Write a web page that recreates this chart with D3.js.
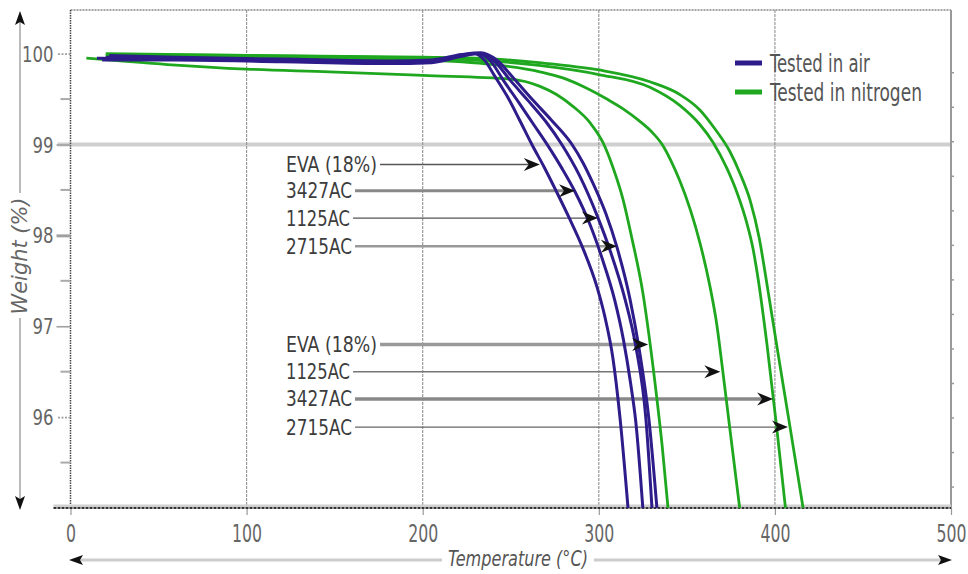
<!DOCTYPE html>
<html><head><meta charset="utf-8">
<script src="https://cdn.jsdelivr.net/npm/d3@7"></script>
<style>
html,body{margin:0;padding:0;background:#fff;}
svg{display:block;}
text{font-family:"Liberation Sans Narrow","Arial Narrow","DejaVu Sans Condensed","Liberation Sans",sans-serif;}
</style></head><body>
<svg id="chart" width="968" height="574"></svg>
<script>
// ---------------- DATA ----------------
const xTicks = [0, 100, 200, 300, 400, 500];
const yTicks = [96, 97, 98, 99, 100];
const yMinorTicks = [95.5, 96.5, 97.5, 98.5, 99.5];
const seriesNames = ["Tested in air", "Tested in nitrogen"];

// Tested in air  [temperature °C, weight %]
const airEVA = [[15,99.95],[60,99.94],[120,99.92],[180,99.9],[205,99.91],[220,99.97],[229,100.0],[235,99.93],[241,99.75],[248,99.53],[255,99.27],[262,99.0],[269,98.75],[276,98.48],[283,98.2],[290.7,97.87],[299,97.43],[303.5,97.1],[308,96.65],[312,96.0],[316.6,95.0]];
const air3427 = [[18,99.93],[60,99.93],[120,99.91],[180,99.89],[205,99.9],[222,99.97],[231,100.0],[238,99.93],[246,99.7],[255,99.45],[263,99.22],[271,98.99],[279,98.74],[286.5,98.48],[295,98.12],[302,97.74],[309,97.29],[314,96.85],[318,96.38],[321,95.95],[325,95.0]];
const air1125 = [[20,99.96],[60,99.95],[120,99.93],[180,99.91],[205,99.92],[222,99.98],[232,100.0],[240,99.93],[250,99.7],[260,99.48],[270,99.25],[279,99.0],[289,98.66],[299,98.22],[307,97.8],[315,97.29],[321,96.78],[326.8,95.97],[330.2,95.0]];
const air2715 = [[22,99.98],[60,99.96],[120,99.94],[180,99.92],[205,99.93],[222,99.99],[233,100.01],[242,99.93],[252,99.72],[262,99.5],[273,99.27],[284.8,99.0],[291,98.8],[297,98.56],[304,98.24],[310.3,97.87],[317.7,97.3],[323,96.74],[328.5,95.97],[333,95.0]];

// Tested in nitrogen
const n2EVA = [[9,99.95],[55,99.88],[100,99.83],[147,99.8],[200,99.76],[250,99.72],[266.6,99.64],[276,99.55],[285.3,99.42],[295,99.24],[302.4,99.02],[308,98.75],[313.7,98.4],[319,97.95],[325,97.37],[328.5,96.9],[333,96.2],[336,95.68],[339.3,95.0]];
const n21125 = [[20,99.98],[100,99.96],[200,99.93],[240,99.88],[266.6,99.8],[280,99.73],[292,99.63],[304.6,99.5],[314,99.39],[323,99.26],[330,99.14],[336,99.0],[341,98.82],[346,98.6],[352,98.28],[357.4,97.92],[363,97.45],[367,97.02],[370,96.57],[374.5,95.86],[380,95.0]];
const n23427 = [[20,100.0],[100,99.98],[200,99.95],[230,99.93],[266,99.87],[300,99.77],[329,99.63],[346,99.43],[357.4,99.22],[365,99.02],[372.7,98.74],[378.5,98.47],[384,98.14],[387.5,97.86],[390,97.58],[395.5,96.8],[401,95.89],[406,95.0]];
const n22715 = [[24,99.99],[100,99.98],[200,99.96],[230,99.95],[266,99.9],[300,99.82],[329,99.69],[346,99.55],[357.4,99.38],[366,99.17],[374.5,98.92],[380,98.69],[386,98.38],[391,97.98],[396,97.4],[401.2,96.77],[408.6,95.89],[416,95.0]];

// annotation arrows
const airLabels = ["EVA (18%)", "3427AC", "1125AC", "2715AC"];
const airLevels = [98.78, 98.49, 98.19, 97.88];
const airTips   = [266.5, 286.5, 299.5, 310.3];
const n2Labels  = ["EVA (18%)", "1125AC", "3427AC", "2715AC"];
const n2Levels  = [96.8, 96.5, 96.2, 95.89];
const n2Tips    = [328, 369, 399, 407.4];

// ---------------- STYLE / LAYOUT ----------------
const blue = "#2d1c8a", green = "#1fa81f";
const labelStartT = 122.4;
const labelWidths = {"EVA (18%)": 91, "3427AC": 66, "1125AC": 64, "2715AC": 66};
const airArrowW = [1.3, 3, 1.3, 2.5];
const airArrowC = ["#555", "#888", "#555", "#999"];
const n2ArrowW = [3.5, 1.6, 3.5, 1.3];
const n2ArrowC = ["#999", "#777", "#888", "#666"];

const svg = d3.select("#chart");
const x = d3.scaleLinear().domain([0, 500]).range([70.5, 951]);
const y = d3.scaleLinear().domain([95, 100.48]).range([508, 10]);
const [x0, x1] = x.range();
const [yb, yt] = y.range();

function squeeze(sel, target) {
  sel.each(function (d, i) {
    const t = d3.select(this);
    const w = this.getComputedTextLength();
    const tw = typeof target === "function" ? target(d, i) : target;
    const s = tw / w;
    const xx = +t.attr("x") || 0;
    const prev = t.attr("transform") || "";
    t.attr("x", xx / s).attr("transform", (prev + ` scale(${s},1)`).trim());
  });
}

svg.append("line").attr("x1", x0 - 13).attr("x2", x1).attr("y1", y(99)).attr("y2", y(99))
  .attr("stroke", "#cfcfcf").attr("stroke-width", 4);

svg.append("g").selectAll("line").data(xTicks.filter(d => d > 0 && d < 500)).join("line")
  .attr("x1", d => x(d)).attr("x2", d => x(d)).attr("y1", yt).attr("y2", yb)
  .attr("stroke", "#9a9a9a").attr("stroke-width", 1.2).attr("stroke-dasharray", "3,1");

svg.append("line").attr("x1", x0).attr("x2", x1).attr("y1", yt).attr("y2", yt)
  .attr("stroke", "#888").attr("stroke-width", 1.5).attr("stroke-dasharray", "2,1");
svg.append("line").attr("x1", x1).attr("x2", x1).attr("y1", yt).attr("y2", yb)
  .attr("stroke", "#999").attr("stroke-width", 2);
svg.append("g").selectAll("line").data(d3.range(99.79, 95.1, -0.38)).join("line")
  .attr("x1", x1).attr("x2", x1 + 3).attr("y1", d => y(d)).attr("y2", d => y(d))
  .attr("stroke", "#999").attr("stroke-width", 1.5);

svg.append("line").attr("x1", x0).attr("x2", x0).attr("y1", yt).attr("y2", yb)
  .attr("stroke", "#444").attr("stroke-width", 1.5).attr("stroke-dasharray", "1.5,1");

const yAxis = svg.append("g").attr("transform", `translate(${x0},0)`)
  .call(d3.axisLeft(y).tickValues(yTicks).tickFormat(d3.format("d")).tickSize(14).tickPadding(3));
yAxis.select(".domain").remove();
yAxis.selectAll(".tick line").attr("stroke", "#a0a0a0").attr("stroke-width", d => d === 98 ? 3 : 1.6)
  .attr("stroke-dasharray", d => (d === 100 || d === 96) ? "2,1.5" : null);
yAxis.selectAll(".tick text").attr("fill", "#666").attr("font-size", 21).attr("dy", "0.36em")
  .call(squeeze, d => String(d).length * 10.5);
svg.append("g").selectAll("line").data(yMinorTicks).join("line")
  .attr("x1", x0 - 10).attr("x2", x0).attr("y1", d => y(d)).attr("y2", d => y(d))
  .attr("stroke", "#aaa").attr("stroke-width", 2);

svg.append("line").attr("x1", x0 - 17).attr("x2", x1).attr("y1", yb - 2).attr("y2", yb - 2)
  .attr("stroke", "#d0d0d0").attr("stroke-width", 3);
const xAxis = svg.append("g").attr("transform", `translate(0,${yb})`)
  .call(d3.axisBottom(x).tickValues(xTicks).tickFormat(d3.format("d")).tickSize(7).tickPadding(10));
xAxis.select(".domain").remove();
xAxis.selectAll(".tick line").attr("stroke", "#999").attr("stroke-width", 1.2);
xAxis.selectAll(".tick text").attr("fill", "#666").attr("font-size", 24).attr("y", 34).attr("dy", null)
  .call(squeeze, d => String(d).length * 10);
svg.append("line").attr("x1", x0 - 17).attr("x2", x1).attr("y1", yb).attr("y2", yb)
  .attr("stroke", "#333").attr("stroke-width", 1.8).attr("stroke-dasharray", "3,1");

function arrowGroup(labels, levels, tips, widths, colors) {
  const g = svg.append("g");
  labels.forEach((lab, i) => {
    const yy = y(levels[i]);
    const xs = x(labelStartT);
    const lw = labelWidths[lab];
    g.append("text").attr("x", xs).attr("y", yy + 7.5).text(lab)
      .attr("font-size", 21).attr("fill", "#3c3c3c").call(squeeze, lw);
    g.append("line").attr("x1", xs + lw + 3).attr("x2", x(tips[i]) - 8)
      .attr("y1", yy).attr("y2", yy)
      .attr("stroke", colors[i]).attr("stroke-width", widths[i]);
  });
}
arrowGroup(airLabels, airLevels, airTips, airArrowW, airArrowC);
arrowGroup(n2Labels, n2Levels, n2Tips, n2ArrowW, n2ArrowC);

const line = d3.line().x(d => x(d[0])).y(d => y(d[1])).curve(d3.curveMonotoneX);
const greens = [n2EVA, n21125, n23427, n22715];
const blues = [airEVA, air3427, air1125, air2715];
svg.append("g").selectAll("path").data(greens).join("path")
  .attr("d", line).attr("fill", "none").attr("stroke", green).attr("stroke-width", 2.8);
svg.append("g").selectAll("path").data(blues).join("path")
  .attr("d", line).attr("fill", "none").attr("stroke", blue).attr("stroke-width", 3);

function heads(levels, tips) {
  svg.append("g").selectAll("path").data(levels.map((l, i) => [tips[i], l])).join("path")
    .attr("d", d => {
      const tx = x(d[0]), ty = y(d[1]);
      return `M${tx},${ty} L${tx - 16},${ty - 6.5} L${tx - 11},${ty} L${tx - 16},${ty + 6.5} Z`;
    })
    .attr("fill", "#111");
}
heads(airLevels, airTips);
heads(n2Levels, n2Tips);

const leg = svg.append("g").attr("transform", "translate(735,63)");
seriesNames.forEach((nm, i) => {
  leg.append("line").attr("x1", 0).attr("x2", 27).attr("y1", i * 29).attr("y2", i * 29)
    .attr("stroke", i === 0 ? blue : green).attr("stroke-width", 5);
  leg.append("text").attr("x", 35).attr("y", i * 29 + 9).text(nm)
    .attr("font-size", 25).attr("fill", "#555").call(squeeze, i === 0 ? 100 : 152);
});

const ax = svg.append("g");
ax.append("line").attr("x1", 20).attr("x2", 20).attr("y1", 20).attr("y2", 193).attr("stroke", "#bbb").attr("stroke-width", 2);
ax.append("line").attr("x1", 20).attr("x2", 20).attr("y1", 318).attr("y2", 500).attr("stroke", "#bbb").attr("stroke-width", 2);
ax.append("path").attr("d", "M20,11 L15,25 L20,22 L25,25 Z").attr("fill", "#111");
ax.append("path").attr("d", "M20,510 L15,496 L20,499 L25,496 Z").attr("fill", "#111");
ax.append("text").attr("transform", "translate(27,256) rotate(-90)").attr("text-anchor", "middle")
  .attr("font-size", 21).attr("font-style", "italic").attr("fill", "#666")
  .text("Weight (%)").call(squeeze, 117);
ax.append("line").attr("x1", 78).attr("x2", 442).attr("y1", 560).attr("y2", 560).attr("stroke", "#cdcdcd").attr("stroke-width", 3);
ax.append("line").attr("x1", 594).attr("x2", 942).attr("y1", 560).attr("y2", 560).attr("stroke", "#cdcdcd").attr("stroke-width", 3);
ax.append("path").attr("d", "M69,560 L83,555 L80,560 L83,565 Z").attr("fill", "#111");
ax.append("path").attr("d", "M952,560 L938,555 L941,560 L938,565 Z").attr("fill", "#111");
ax.append("text").attr("x", 518).attr("y", 566).attr("text-anchor", "middle")
  .attr("font-size", 22).attr("font-style", "italic").attr("fill", "#555")
  .text("Temperature (°C)").call(squeeze, 140);
</script>
</body></html>
